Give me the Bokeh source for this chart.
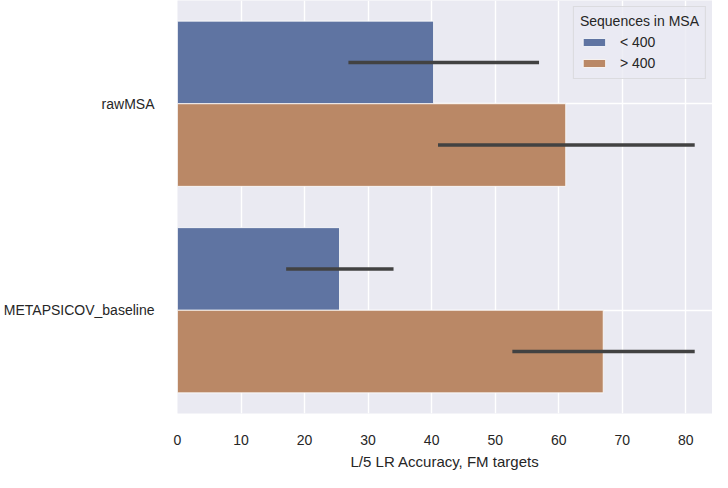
from bokeh.plotting import figure
from bokeh.models import (FactorRange, Range1d, ColumnDataSource, Legend,
                          LegendItem, FixedTicker)
from bokeh.transform import dodge
from bokeh.embed import file_html
from bokeh.resources import INLINE

# ---- data ----
methods = ["rawMSA", "METAPSICOV_baseline"]
groups = ["< 400", "> 400"]
acc_lt400 = [40.3, 25.5]
acc_gt400 = [61.1, 67.0]
ci_lo_lt400 = [26.9, 17.1]
ci_hi_lt400 = [56.9, 34.0]
ci_lo_gt400 = [41.0, 52.7]
ci_hi_gt400 = [81.4, 81.4]
x_ticks = [0, 10, 20, 30, 40, 50, 60, 70, 80]
x_max = 84.2
x_label = "L/5 LR Accuracy, FM targets"
legend_title = "Sequences in MSA"

BLUE = "#5f74a2"
ORANGE = "#ba8866"
ERR = "#424242"
BG = "#EAEAF2"
FONT = "Liberation Sans"
TXT = "#262626"

src_lt = ColumnDataSource(dict(method=methods, acc=acc_lt400,
                               lo=ci_lo_lt400, hi=ci_hi_lt400))
src_gt = ColumnDataSource(dict(method=methods, acc=acc_gt400,
                               lo=ci_lo_gt400, hi=ci_hi_gt400))

y_range = FactorRange(factors=list(reversed(methods)))
p = figure(width=712, height=472, y_range=y_range, x_range=Range1d(0, x_max),
           output_backend="svg", toolbar_location=None,
           min_border_left=169, min_border_right=0, min_border_top=0,
           min_border_bottom=55)

p.background_fill_color = BG
p.border_fill_color = "white"
p.outline_line_color = None

p.xgrid.grid_line_color = "white"
p.xgrid.grid_line_width = 1.4
p.ygrid.grid_line_color = "white"
p.ygrid.grid_line_width = 1.4

r_lt = p.hbar(y=dodge("method", 0.2, range=y_range), left=0, right="acc",
              height=0.4, source=src_lt, fill_color=BLUE, line_color="white",
              line_width=0.8)
r_gt = p.hbar(y=dodge("method", -0.2, range=y_range), left=0, right="acc",
              height=0.4, source=src_gt, fill_color=ORANGE, line_color="white",
              line_width=0.8)

p.segment(x0="lo", x1="hi", y0=dodge("method", 0.2, range=y_range),
          y1=dodge("method", 0.2, range=y_range), source=src_lt,
          line_color=ERR, line_width=3.6)
p.segment(x0="lo", x1="hi", y0=dodge("method", -0.2, range=y_range),
          y1=dodge("method", -0.2, range=y_range), source=src_gt,
          line_color=ERR, line_width=3.6)

for ax in (p.xaxis[0], p.yaxis[0]):
    ax.axis_line_color = None
    ax.major_tick_line_color = None
    ax.minor_tick_line_color = None
    ax.major_label_text_font = FONT
    ax.major_label_text_font_size = "14px"
    ax.major_label_text_color = TXT

p.xaxis.ticker = FixedTicker(ticks=x_ticks)
p.xaxis.major_label_standoff = 15
p.yaxis.major_label_standoff = 17
p.xaxis.axis_label = x_label
p.xaxis.axis_label_text_font = FONT
p.xaxis.axis_label_text_font_size = "15px"
p.xaxis.axis_label_text_font_style = "normal"
p.xaxis.axis_label_text_color = TXT
p.xaxis.axis_label_standoff = 5

legend = Legend(items=[LegendItem(label=groups[0], renderers=[r_lt]),
                       LegendItem(label=groups[1], renderers=[r_gt])],
                title=legend_title, location="top_right")
legend.title_text_font = FONT
legend.title_text_font_size = "14px"
legend.title_text_font_style = "normal"
legend.title_text_color = TXT
legend.title_standoff = 4
legend.label_text_font = FONT
legend.label_text_font_size = "14px"
legend.label_text_color = TXT
legend.label_height = 18
legend.glyph_width = 28
legend.glyph_height = 10
legend.label_standoff = 12
legend.spacing = 3
legend.padding = 6
legend.margin = 6
legend.background_fill_color = BG
legend.background_fill_alpha = 0.8
legend.border_line_color = "#cccccc"
legend.border_line_width = 1
p.add_layout(legend)

open("out.html", "w").write(file_html(p, INLINE))
